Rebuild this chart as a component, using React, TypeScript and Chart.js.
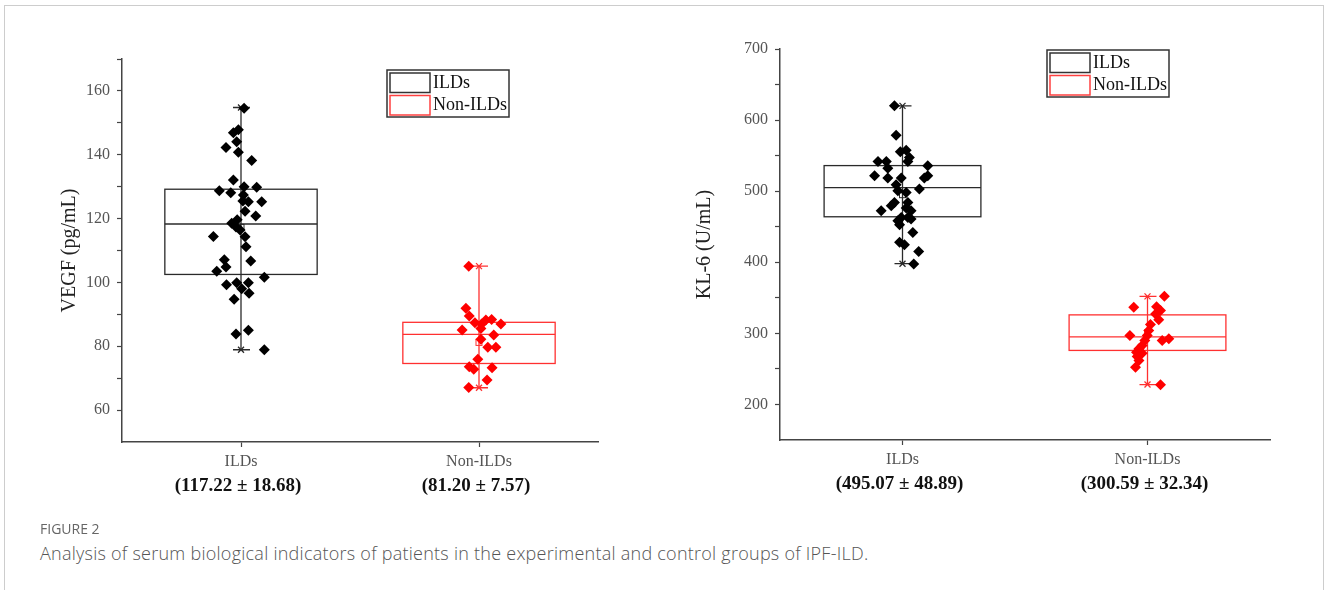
import React, { useEffect, useRef } from "react";
import { Chart, registerables } from "chart.js";

Chart.register(...registerables);

// ---------- shared ----------
const groups = ["ILDs", "Non-ILDs"];
const groupColors = ["#000000", "#ff0000"];
const boxLineColors = ["#2a2a2a", "#ff3030"];

// ---------- VEGF panel ----------
const vegfTitle = "VEGF (pg/mL)";
const vegfStatLabels = ["(117.22 ± 18.68)", "(81.20 ± 7.57)"];
const vegfYTicks = [60, 70, 80, 90, 100, 110, 120, 130, 140, 150, 160, 170];
const vegfYLabels = [60, 80, 100, 120, 140, 160];
// lower whisker, Q1, median, Q3, upper whisker, mean
const vegfIldsBox = [78.9, 102.5, 118.3, 129.2, 154.8, 117.22];
const vegfNonBox = [67.0, 74.6, 83.7, 87.5, 105.1, 81.2];
const vegfIldsX = [0.013, -0.032, -0.011, -0.018, -0.063, -0.011, 0.045, -0.032, -0.091, -0.043, 0.013, 0.066, 0.01, 0.008, 0.031, 0.087, 0.017, 0.062, -0.016, -0.039, -0.021, -0.004, 0.017, -0.116, 0.021, -0.07, 0.041, -0.063, -0.102, 0.098, -0.061, -0.018, 0.031, 0.003, 0.034, -0.029, -0.021, 0.031, 0.098];
const vegfIldsY = [154.6, 146.9, 147.8, 144.1, 142.3, 140.8, 138.2, 132.1, 128.7, 128.1, 130.0, 129.8, 127.4, 125.5, 125.3, 125.3, 122.3, 120.8, 119.6, 118.5, 117.4, 116.4, 114.3, 114.4, 111.2, 107.1, 106.7, 104.8, 103.5, 101.6, 99.3, 99.9, 99.9, 98.0, 96.6, 94.7, 83.8, 85.0, 78.9];
const vegfNonX = [0.957, 0.945, 0.959, 0.983, 1.011, 1.029, 1.053, 1.092, 1.008, 0.929, 1.062, 1.008, 1.037, 1.071, 0.995, 0.959, 0.978, 1.055, 1.034, 0.957];
const vegfNonY = [105.1, 91.9, 89.5, 87.4, 87.0, 88.2, 88.4, 87.0, 85.6, 85.1, 83.5, 82.2, 79.7, 79.7, 75.9, 73.6, 72.8, 73.3, 69.4, 67.1];

// ---------- KL-6 panel ----------
const kl6Title = "KL-6 (U/mL)";
const kl6StatLabels = ["(495.07 ± 48.89)", "(300.59 ± 32.34)"];
const kl6YTicks = [200, 250, 300, 350, 400, 450, 500, 550, 600, 650, 700];
const kl6YLabels = [200, 300, 400, 500, 600, 700];
const kl6IldsBox = [398, 464, 505, 536, 620, 495.07];
const kl6NonBox = [228, 276, 295, 326, 352, 300.59];
const kl6IldsX = [-0.033, -0.026, -0.009, 0.015, 0.028, 0.022, -0.1, -0.066, -0.06, 0.103, -0.114, -0.06, -0.005, 0.089, 0.103, -0.026, 0.069, -0.019, 0.015, -0.033, -0.046, 0.022, 0.015, 0.035, -0.087, -0.005, 0.022, -0.019, 0.035, -0.012, 0.042, -0.012, 0.008, 0.066, 0.046];
const kl6IldsY = [620, 578.8, 555.3, 557.7, 547.3, 541.7, 541.7, 541.7, 532.4, 535.7, 521.6, 518.4, 518.4, 518.4, 521.6, 509, 503, 500.6, 498.2, 484.1, 479.5, 484.1, 476.3, 472.5, 472.5, 463.1, 463.1, 458.4, 460.8, 452.8, 442, 428, 424.7, 415.3, 397.6];
const kl6NonX = [1.069, 0.944, 1.037, 1.053, 1.033, 1.046, 1.012, 1.005, 0.928, 0.999, 0.989, 1.06, 1.087, 0.978, 0.965, 0.955, 0.978, 0.958, 0.965, 0.951, 1.053];
const kl6NonY = [352.1, 336.7, 337.6, 332, 327.4, 319, 312.4, 303.9, 296.9, 296.9, 289.9, 289.9, 292.3, 282.9, 278.2, 273.5, 272, 267.4, 261.8, 252.4, 227.7];

const captionLabel = "FIGURE 2";
const captionText =
  "Analysis of serum biological indicators of patients in the experimental and control groups of IPF-ILD.";

const SERIF = '"Liberation Serif", "Times New Roman", serif';

// ---------- plugins ----------
const boxPlugin = {
  id: "boxes",
  beforeDatasetsDraw(chart: any, _a: any, opts: any) {
    const { ctx, scales } = chart;
    const x = scales.x;
    const y = scales.y;
    opts.items.forEach((vals: number[], i: number) => {
      const [lo, q1, med, q3, hi, mean] = vals;
      const cx = x.getPixelForValue(i);
      const hw = x.getPixelForValue(i + opts.halfWidth) - cx;
      const pLo = y.getPixelForValue(lo);
      const pQ1 = y.getPixelForValue(q1);
      const pMed = y.getPixelForValue(med);
      const pQ3 = y.getPixelForValue(q3);
      const pHi = y.getPixelForValue(hi);
      const pMean = y.getPixelForValue(mean);
      ctx.save();
      ctx.strokeStyle = opts.colors[i];
      ctx.lineWidth = 1.3;
      ctx.beginPath();
      ctx.moveTo(cx, pHi);
      ctx.lineTo(cx, pLo);
      ctx.stroke();
      [pLo, pHi].forEach((py) => {
        ctx.beginPath();
        ctx.moveTo(cx - 8, py);
        ctx.lineTo(cx + 9, py);
        ctx.moveTo(cx - 3, py - 3);
        ctx.lineTo(cx + 3, py + 3);
        ctx.moveTo(cx - 3, py + 3);
        ctx.lineTo(cx + 3, py - 3);
        ctx.stroke();
      });
      ctx.strokeRect(cx - hw, pQ3, 2 * hw, pQ1 - pQ3);
      ctx.beginPath();
      ctx.moveTo(cx - hw, pMed);
      ctx.lineTo(cx + hw, pMed);
      ctx.stroke();
      ctx.lineWidth = 1;
      ctx.strokeRect(cx - 3, pMean - 3, 6, 6);
      ctx.restore();
    });
  },
};

const frameLegendPlugin = {
  id: "frameLegend",
  afterDraw(chart: any, _a: any, opts: any) {
    const { ctx, chartArea } = chart;
    const x0 = chartArea.left + opts.dx;
    const y0 = chartArea.top + opts.dy;
    ctx.save();
    ctx.lineWidth = 1.5;
    ctx.strokeStyle = "#333";
    ctx.strokeRect(x0, y0, 122, 47);
    groups.forEach((label, k) => {
      ctx.strokeStyle = k === 0 ? "#333" : "#ff4040";
      ctx.lineWidth = 1.5;
      ctx.strokeRect(x0 + 3, y0 + 3 + k * 22.5, 40, 19.5);
      ctx.fillStyle = "#111";
      ctx.font = `18px ${SERIF}`;
      ctx.textBaseline = "middle";
      ctx.textAlign = "left";
      ctx.fillText(label, x0 + 46, y0 + 13 + k * 22.5);
    });
    ctx.restore();
  },
};

const statsPlugin = {
  id: "stats",
  afterDraw(chart: any, _a: any, opts: any) {
    const { ctx, chartArea, scales } = chart;
    ctx.save();
    ctx.font = `bold 19px ${SERIF}`;
    ctx.fillStyle = "#111";
    ctx.textAlign = "center";
    ctx.textBaseline = "middle";
    opts.labels.forEach((t: string, i: number) => {
      ctx.fillText(t, scales.x.getPixelForValue(i) - 3, chartArea.bottom + opts.offset);
    });
    ctx.restore();
  },
};

type PanelCfg = {
  title: string;
  stats: string[];
  yMin: number;
  yMax: number;
  yTicks: number[];
  yLabels: number[];
  boxes: number[][];
  ildsX: number[];
  ildsY: number[];
  nonX: number[];
  nonY: number[];
  yAxisWidth: number;
  xAxisHeight: number;
  padTop: number;
  padRight: number;
  titlePad: number;
  legendDx: number;
  legendDy: number;
};

function buildConfig(p: PanelCfg): any {
  return {
    type: "scatter",
    data: {
      datasets: [
        {
          data: p.ildsX.map((x, i) => ({ x, y: p.ildsY[i] })),
          backgroundColor: groupColors[0],
          borderColor: groupColors[0],
          borderWidth: 0,
          pointStyle: "rectRot",
          pointRadius: 5.5,
        },
        {
          data: p.nonX.map((x, i) => ({ x, y: p.nonY[i] })),
          backgroundColor: groupColors[1],
          borderColor: groupColors[1],
          borderWidth: 0,
          pointStyle: "rectRot",
          pointRadius: 5.5,
        },
      ],
    },
    options: {
      animation: false,
      responsive: false,
      maintainAspectRatio: false,
      devicePixelRatio: 1,
      events: [],
      layout: { padding: { top: p.padTop, right: p.padRight, left: 0, bottom: 0 } },
      plugins: {
        legend: { display: false },
        tooltip: { enabled: false },
        boxes: { items: p.boxes, halfWidth: 0.32, colors: boxLineColors },
        frameLegend: { dx: p.legendDx, dy: p.legendDy },
        stats: { labels: p.stats, offset: 44 },
      },
      scales: {
        x: {
          type: "linear",
          min: -0.5,
          max: 1.5,
          afterBuildTicks: (s: any) => {
            s.ticks = groups.map((_, i) => ({ value: i }));
          },
          afterFit: (s: any) => {
            s.height = p.xAxisHeight;
          },
          ticks: {
            callback: (v: any) => groups[v] ?? "",
            color: "#555",
            font: { family: SERIF, size: 16 },
            padding: 5,
            maxRotation: 0,
            autoSkip: false,
          },
          grid: { drawOnChartArea: false, tickLength: 5, tickColor: "#444", tickWidth: 1.2 },
          border: { display: true, color: "#444", width: 1.5 },
        },
        y: {
          type: "linear",
          min: p.yMin,
          max: p.yMax,
          afterBuildTicks: (s: any) => {
            s.ticks = p.yTicks.map((v) => ({ value: v }));
          },
          afterFit: (s: any) => {
            s.width = p.yAxisWidth;
          },
          ticks: {
            callback: (v: any) => (p.yLabels.includes(v) ? String(v) : ""),
            color: "#555",
            font: { family: SERIF, size: 16 },
            padding: 7,
            autoSkip: false,
          },
          grid: { drawOnChartArea: false, tickLength: 5, tickColor: "#444", tickWidth: 1.2 },
          border: { display: true, color: "#444", width: 1.5 },
          title: {
            display: true,
            text: p.title,
            color: "#222",
            font: { family: SERIF, size: 20 },
            padding: { top: p.titlePad, bottom: 0 },
          },
        },
      },
    },
    plugins: [boxPlugin, frameLegendPlugin, statsPlugin],
  };
}

const vegfPanel: PanelCfg = {
  title: vegfTitle,
  stats: vegfStatLabels,
  yMin: 50,
  yMax: 170,
  yTicks: vegfYTicks,
  yLabels: vegfYLabels,
  boxes: [vegfIldsBox, vegfNonBox],
  ildsX: vegfIldsX,
  ildsY: vegfIldsY,
  nonX: vegfNonX,
  nonY: vegfNonY,
  yAxisWidth: 122,
  xAxisHeight: 78,
  padTop: 59,
  padRight: 42,
  titlePad: 58,
  legendDx: 265,
  legendDy: 11,
};

const kl6Panel: PanelCfg = {
  title: kl6Title,
  stats: kl6StatLabels,
  yMin: 150,
  yMax: 700,
  yTicks: kl6YTicks,
  yLabels: kl6YLabels,
  boxes: [kl6IldsBox, kl6NonBox],
  ildsX: kl6IldsX,
  ildsY: kl6IldsY,
  nonX: kl6NonX,
  nonY: kl6NonY,
  yAxisWidth: 120,
  xAxisHeight: 80,
  padTop: 49,
  padRight: 58,
  titlePad: 33,
  legendDx: 267,
  legendDy: 1,
};

function Panel({ cfg, left, width }: { cfg: PanelCfg; left: number; width: number }) {
  const ref = useRef<HTMLCanvasElement>(null);
  useEffect(() => {
    const chart = new Chart(ref.current as HTMLCanvasElement, buildConfig(cfg));
    return () => chart.destroy();
  }, [cfg]);
  return (
    <canvas
      ref={ref}
      width={width}
      height={520}
      style={{ position: "absolute", left, top: 0, width, height: 520 }}
    />
  );
}

export default function App() {
  return (
    <div
      style={{
        position: "absolute",
        left: 0,
        top: 0,
        width: 1328,
        height: 590,
        overflow: "hidden",
        background: "#fff",
      }}
    >
      <div
        style={{
          position: "absolute",
          left: 4,
          top: 5,
          width: 1320,
          height: 640,
          border: "1.5px solid #cdcdcd",
          boxSizing: "border-box",
        }}
      />
      <Panel cfg={vegfPanel} left={0} width={640} />
      <Panel cfg={kl6Panel} left={660} width={668} />
      <div
        style={{
          position: "absolute",
          left: 40,
          top: 522,
          font: '14px "Open Sans", sans-serif',
          lineHeight: 1,
          color: "#666",
          whiteSpace: "nowrap",
        }}
      >
        {captionLabel}
      </div>
      <div
        style={{
          position: "absolute",
          left: 40,
          top: 544,
          font: '300 18px "Open Sans", sans-serif',
          letterSpacing: "0.25px",
          lineHeight: 1,
          color: "#555",
          whiteSpace: "nowrap",
        }}
      >
        {captionText}
      </div>
    </div>
  );
}
